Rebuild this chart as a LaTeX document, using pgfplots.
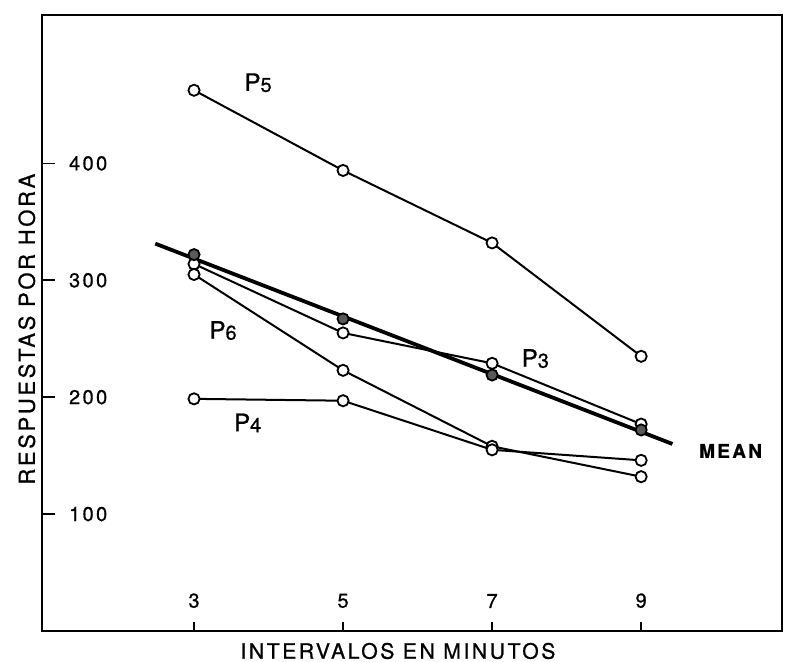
\documentclass[border=0pt]{standalone}
\usepackage{fontspec}
\setmainfont[LetterSpace=12,FakeBold=0.8]{TeX Gyre Heros}
\usepackage{pgfplots}
\pgfplotsset{compat=1.18}
\begin{document}
\begin{tikzpicture}
\useasboundingbox (-21pt,-15.5pt) rectangle (373pt,315.5pt);
\begin{axis}[
 scale only axis, width=370pt, height=308pt,
 xmin=0.96, xmax=10.89, ymin=0, ymax=527,
 axis line style={line width=1.2pt},
 xtick={3,5,7,9}, ytick={100,200,300,400},
 tick align=inside, tick pos=left, major tick length=6.5pt,
 tick style={line width=0.9pt, black},
 xtick style={/pgfplots/major tick length=4.5pt},
 /pgf/number format/assume math mode=true,
 tick label style={font=\fontsize{10}{11}\selectfont},
 xticklabel style={anchor=south, yshift=8pt},
 yticklabel style={anchor=west},
 yticklabel shift=-10pt,
 xlabel={INTERVALOS EN MINUTOS}, ylabel={RESPUESTAS POR HORA},
 xlabel style={font=\fontsize{10.6}{12}\selectfont, at={(axis description cs:0.481,0)}, anchor=center, yshift=-10pt},
 ylabel style={font=\fontsize{11}{13}\selectfont, at={(axis description cs:-0.0205,0.49)}, anchor=center},
 clip=false,
]
% regression line for the mean
\addplot[line width=1.9pt, black, no marks] coordinates {(2.48,331.4) (9.42,160.0)};
% P5
\addplot[line width=1pt, black, mark=*, mark size=2.8pt, mark options={fill=white, line width=0.9pt}] coordinates {(3,462.6) (5,394) (7,332) (9,235)};
% P3
\addplot[line width=1pt, black, mark=*, mark size=2.8pt, mark options={fill=white, line width=0.9pt}] coordinates {(3,314) (5,255) (7,229) (9,177)};
% P6
\addplot[line width=1pt, black, mark=*, mark size=2.8pt, mark options={fill=white, line width=0.9pt}] coordinates {(3,305) (5,223) (7,158) (9,132)};
% P4
\addplot[line width=1pt, black, mark=*, mark size=2.8pt, mark options={fill=white, line width=0.9pt}] coordinates {(3,198.6) (5,197) (7,155) (9,146)};
% Mean points
\addplot[only marks, mark=*, mark size=2.8pt, mark options={fill=black!65, draw=black, line width=0.9pt}] coordinates {(3,322) (5,267) (7,219) (9,172)};
\node[font=\fontsize{12}{14}\selectfont] at (axis cs:3.86,469) {P\raisebox{-0.5pt}{\fontsize{10}{11}\selectfont 5}};
\node[font=\fontsize{12}{14}\selectfont] at (axis cs:3.39,257) {P\raisebox{-0.5pt}{\fontsize{10}{11}\selectfont 6}};
\node[font=\fontsize{12}{14}\selectfont] at (axis cs:3.72,178) {P\raisebox{-0.5pt}{\fontsize{10}{11}\selectfont 4}};
\node[font=\fontsize{12}{14}\selectfont] at (axis cs:7.58,233) {P\raisebox{-0.5pt}{\fontsize{10}{11}\selectfont 3}};
\node[font=\fontsize{9.5}{11}\selectfont\bfseries] at (axis cs:10.2,154) {MEAN};
\end{axis}
\end{tikzpicture}
\end{document}
